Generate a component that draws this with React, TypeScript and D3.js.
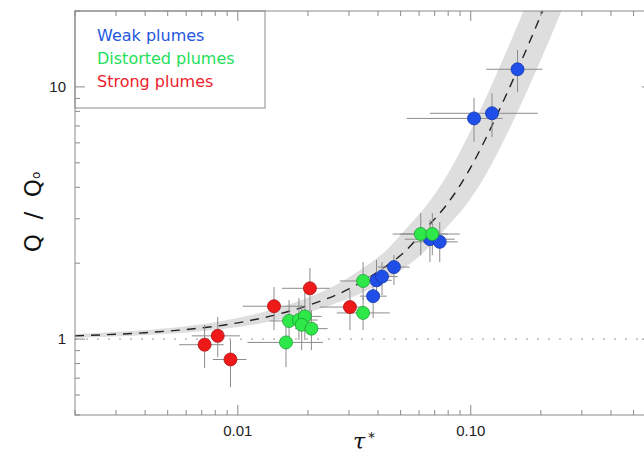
import React from 'react'
import * as d3 from 'd3'

const W = 644
const H = 458

// weak plumes (blue)
const weakTau = [0.0381, 0.0394, 0.0416, 0.0468, 0.0668, 0.0736, 0.1033, 0.1234, 0.1588]
const weakQ = [1.48, 1.71, 1.77, 1.93, 2.49, 2.43, 7.5, 7.86, 11.75]
const weakTauLo = [0.0334, 0.034, 0.0361, 0.0399, 0.0521, 0.0575, 0.0531, 0.0667, 0.1166]
const weakTauHi = [0.0436, 0.0458, 0.0486, 0.0547, 0.0853, 0.0879, 0.137, 0.194, 0.203]
const weakQLo = [1.211, 1.428, 1.495, 1.638, 2.02, 2.02, 6.06, 6.33, 9.53]
const weakQHi = [1.793, 2.06, 2.02, 2.153, 2.97, 2.91, 9.04, 9.45, 14.0]

// distorted plumes (green)
const distTau = [0.0161, 0.0166, 0.0183, 0.0194, 0.0188, 0.0207, 0.0345, 0.0345, 0.061, 0.0684]
const distQ = [0.97, 1.18, 1.19, 1.23, 1.14, 1.1, 1.27, 1.7, 2.61, 2.61]
const distTauLo = [0.011, 0.0137, 0.01545, 0.0167, 0.0159, 0.0176, 0.0266, 0.0274, 0.0462, 0.0496]
const distTauHi = [0.0232, 0.0204, 0.022, 0.0229, 0.022, 0.0243, 0.0449, 0.0436, 0.0796, 0.0897]
const distQLo = [0.774, 0.947, 0.991, 0.991, 0.904, 0.904, 1.086, 1.428, 2.15, 2.15]
const distQHi = [1.137, 1.428, 1.454, 1.536, 1.364, 1.303, 1.468, 2.02, 3.16, 3.16]

// strong plumes (red)
const strongTau = [0.0072, 0.0082, 0.0093, 0.0143, 0.0204, 0.0303]
const strongQ = [0.95, 1.03, 0.83, 1.35, 1.59, 1.34]
const strongTauLo = [0.0056, 0.00635, 0.00781, 0.0105, 0.01545, 0.0225]
const strongTauHi = [0.0087, 0.0102, 0.0109, 0.019, 0.0248, 0.0344]
const strongQLo = [0.767, 0.848, 0.645, 1.086, 1.268, 1.086]
const strongQHi = [1.137, 1.223, 0.991, 1.608, 1.913, 1.564]

// model curve (dashed) and its grey band
const curveTau = [0.002, 0.004, 0.0056, 0.01, 0.02, 0.03, 0.04, 0.052, 0.065, 0.079, 0.096, 0.11, 0.128, 0.15, 0.179, 0.21]
const curveQ = [1.03, 1.06, 1.085, 1.16, 1.36, 1.58, 1.85, 2.22, 2.78, 3.42, 4.49, 5.66, 7.55, 10.4, 15.1, 21.5]
const bandUpTau = [0.00167, 0.00333, 0.00467, 0.00833, 0.0167, 0.025, 0.0333, 0.0433, 0.0542, 0.0658, 0.08, 0.0917, 0.1067, 0.125, 0.149, 0.175]
const bandUpQ = [1.042, 1.073, 1.098, 1.174, 1.376, 1.599, 1.872, 2.247, 2.813, 3.461, 4.544, 5.728, 7.641, 10.52, 15.28, 21.76]
const bandLoTau = [0.002, 0.0024, 0.0048, 0.00672, 0.012, 0.024, 0.036, 0.048, 0.0624, 0.078, 0.0948, 0.1152, 0.132, 0.1536, 0.18, 0.2148, 0.252]
const bandLoQ = [1.015, 1.018, 1.047, 1.072, 1.146, 1.344, 1.561, 1.828, 2.194, 2.747, 3.379, 4.437, 5.593, 7.46, 10.28, 14.92, 21.25]

const xMajor = [0.01, 0.1]
const xMajorLabels = ['0.01', '0.10']
const yMajor = [1, 10]
const yMajorLabels = ['1', '10']

const legendNames = ['Weak plumes', 'Distorted plumes', 'Strong plumes']
const legendColors = ['#2457e0', '#22e05a', '#ee1c2c']

export default function App() {
  const left = 75, top = 11, right = 652, bottom = 415

  const x = d3.scaleLog().domain([0.002, 0.6]).range([left, right])
  const y = d3.scaleLog().domain([0.5, 20]).range([bottom, top])

  const lineGen = d3.line<[number, number]>().x(d => d[0]).y(d => d[1]).curve(d3.curveMonotoneX)

  const curvePts: [number, number][] = curveTau.map((t, i) => [x(t), y(curveQ[i])])
  const upPts: [number, number][] = bandUpTau.map((t, i) => [x(t), y(bandUpQ[i])])
  const loPts: [number, number][] = bandLoTau.map((t, i) => [x(t), y(bandLoQ[i])])
  const bandPath = lineGen(upPts) + 'L' + d3.line<[number, number]>().curve(d3.curveMonotoneX)(loPts.slice().reverse())!.slice(1) + 'Z'

  const groups = [
    { tau: weakTau, q: weakQ, tl: weakTauLo, th: weakTauHi, ql: weakQLo, qh: weakQHi, fill: '#1f4fe8', stroke: '#1436a8' },
    { tau: distTau, q: distQ, tl: distTauLo, th: distTauHi, ql: distQLo, qh: distQHi, fill: '#2ee84a', stroke: '#1aa030' },
    { tau: strongTau, q: strongQ, tl: strongTauLo, th: strongTauHi, ql: strongQLo, qh: strongQHi, fill: '#ee1a1a', stroke: '#b01010' },
  ]

  const xTicks = x.ticks()
  const yTicks = y.ticks()
  const frame = '#8a8a8a'

  return (
    <svg width={W} height={H} style={{ position: 'absolute', left: 0, top: 0, background: '#fff' }}
      fontFamily="'Liberation Sans', Arial, sans-serif">
      <defs>
        <clipPath id="plot">
          <rect x={left} y={top} width={right - left} height={bottom - top} />
        </clipPath>
      </defs>

      <g clipPath="url(#plot)">
        <path d={bandPath} fill="#dedede" stroke="none" />
        <line x1={left} x2={right} y1={y(1)} y2={y(1)} stroke="#999" strokeWidth={1} strokeDasharray="2,9" />
        <path d={lineGen(curvePts)!} fill="none" stroke="#222" strokeWidth={1.4} strokeDasharray="9,7" />

        {groups.map((g, gi) => (
          <g key={'e' + gi} stroke="#8c8c8c" strokeWidth={1}>
            {g.tau.map((t, i) => (
              <g key={i}>
                <line x1={x(g.tl[i])} x2={x(g.th[i])} y1={y(g.q[i])} y2={y(g.q[i])} />
                <line x1={x(t)} x2={x(t)} y1={y(g.ql[i])} y2={y(g.qh[i])} />
              </g>
            ))}
          </g>
        ))}
        {groups.map((g, gi) => (
          <g key={'p' + gi}>
            {g.tau.map((t, i) => (
              <circle key={i} cx={x(t)} cy={y(g.q[i])} r={6.5} fill={g.fill} stroke={g.stroke} strokeWidth={0.8} />
            ))}
          </g>
        ))}
      </g>

      {/* legend */}
      <rect x={left} y={top} width={190} height={97} fill="#fff" stroke={frame} strokeWidth={1} />
      {legendNames.map((n, i) => (
        <text key={n} x={97} y={41 + i * 23} fontSize={16} fill={legendColors[i]}
          fontFamily="'DejaVu Sans', sans-serif">{n}</text>
      ))}

      {/* frame */}
      <rect x={left} y={top} width={right - left} height={bottom - top} fill="none" stroke={frame} strokeWidth={1} />

      {xTicks.map((t, i) => {
        const major = xMajor.some(m => Math.abs(m - t) < 1e-9)
        const len = major ? 10 : 5
        return (
          <g key={'xt' + i} stroke={frame} strokeWidth={1}>
            <line x1={x(t)} x2={x(t)} y1={bottom} y2={bottom - len} />
            <line x1={x(t)} x2={x(t)} y1={top} y2={top + len} />
          </g>
        )
      })}
      {yTicks.map((t, i) => {
        const major = yMajor.some(m => Math.abs(m - t) < 1e-9)
        const len = major ? 10 : 5
        return (
          <g key={'yt' + i} stroke={frame} strokeWidth={1}>
            <line x1={left} x2={left + len} y1={y(t)} y2={y(t)} />
            <line x1={right} x2={right - len} y1={y(t)} y2={y(t)} />
          </g>
        )
      })}

      {xMajor.map((t, i) => (
        <text key={'xl' + i} x={x(t)} y={436} fontSize={15} fill="#222" textAnchor="middle">{xMajorLabels[i]}</text>
      ))}
      {yMajor.map((t, i) => (
        <text key={'yl' + i} x={66} y={y(t) + 5} fontSize={15} fill="#222" textAnchor="end">{yMajorLabels[i]}</text>
      ))}

      {/* axis titles */}
      <text x={353} y={449} fontSize={22} fill="#111" fontFamily="'DejaVu Serif', serif" fontStyle="italic">τ</text>
      <text x={368} y={442} fontSize={14} fill="#111" fontFamily="'DejaVu Sans', sans-serif">*</text>

      <text transform="translate(41,212) rotate(-90)" fontSize={23} fill="#111" textAnchor="middle"
        fontFamily="'DejaVu Sans', sans-serif" style={{ whiteSpace: 'pre' }}>
        {'Q  /  Q'}
        <tspan fontSize={12} dy={-1}>o</tspan>
      </text>
    </svg>
  )
}
